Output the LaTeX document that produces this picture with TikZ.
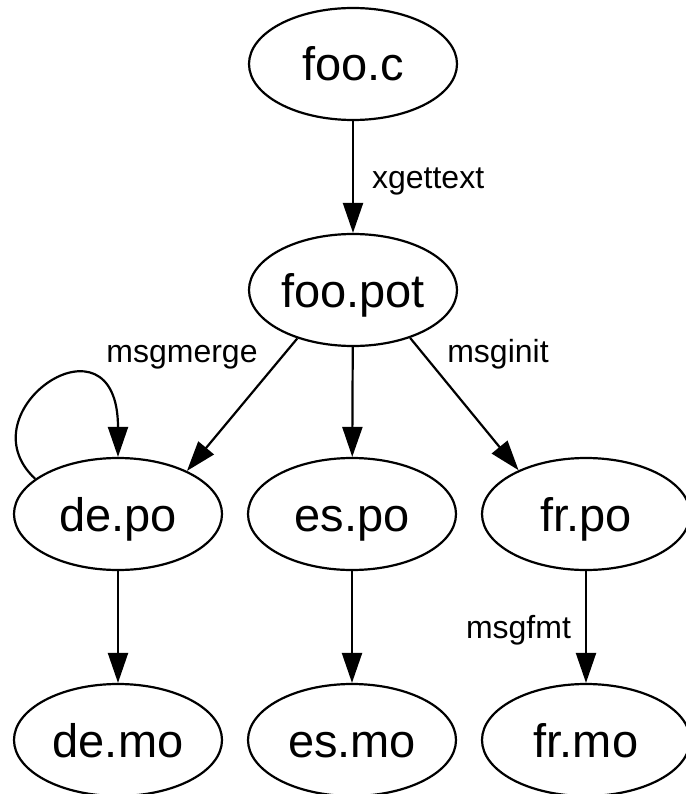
\documentclass[tikz,border=0pt]{standalone}
\usepackage{fontspec}
\setmainfont{Liberation Sans}
\usetikzlibrary{shapes.geometric,arrows.meta,positioning}
\tikzset{
    file-node/.style = {draw, ellipse, line width=2.2pt, minimum width=208pt, minimum height=112pt, inner sep=0pt, font=\fontsize{47}{50}\selectfont, text height=34pt, text depth=0pt},
    tool-label/.style = {font=\fontsize{32}{36}\selectfont, inner sep=0pt, text height=23pt, text depth=0pt},
    flow/.style = {line width=2.2pt, -{Triangle[length=30pt,width=20pt]}},
}

\begin{document}
\begin{tikzpicture}[x=1pt, y=-1pt]
\useasboundingbox (0,0) rectangle (685,794);
% sources and template
\node[file-node] (fooc) at (353,64) {foo.c};
\node[file-node] (foopot) at (353,290) {foo.pot};
% translations
\node[file-node] (depo) at (118,514) {de.po};
\node[file-node] (espo) at (352,514) {es.po};
\node[file-node] (frpo) at (586,514) {fr.po};
% compiled catalogs
\node[file-node] (demo) at (118,740) {de.mo};
\node[file-node] (esmo) at (352,740) {es.mo};
\node[file-node] (frmo) at (586,740) {fr.mo};

\draw[flow] (fooc) -- (foopot) node[midway, right=18pt, tool-label] (xgettext) {xgettext};
\draw[flow] (foopot.221) -- (depo.32);
\draw[flow] (foopot) -- (espo);
\draw[flow] (foopot.320) -- (frpo.147);
\draw[flow] (depo.157) .. controls +(-73,-68) and +(0,-152) .. (depo.north);
\node[tool-label] (msgmerge) at (182,351) {msgmerge};
\node[tool-label] (msginit) at (498,351) {msginit};

\draw[flow] (depo) -- (demo);
\draw[flow] (espo) -- (esmo);
\draw[flow] (frpo) -- (frmo) node[midway, left=14pt, tool-label] (msgfmt) {msgfmt};
\end{tikzpicture}
\end{document}
